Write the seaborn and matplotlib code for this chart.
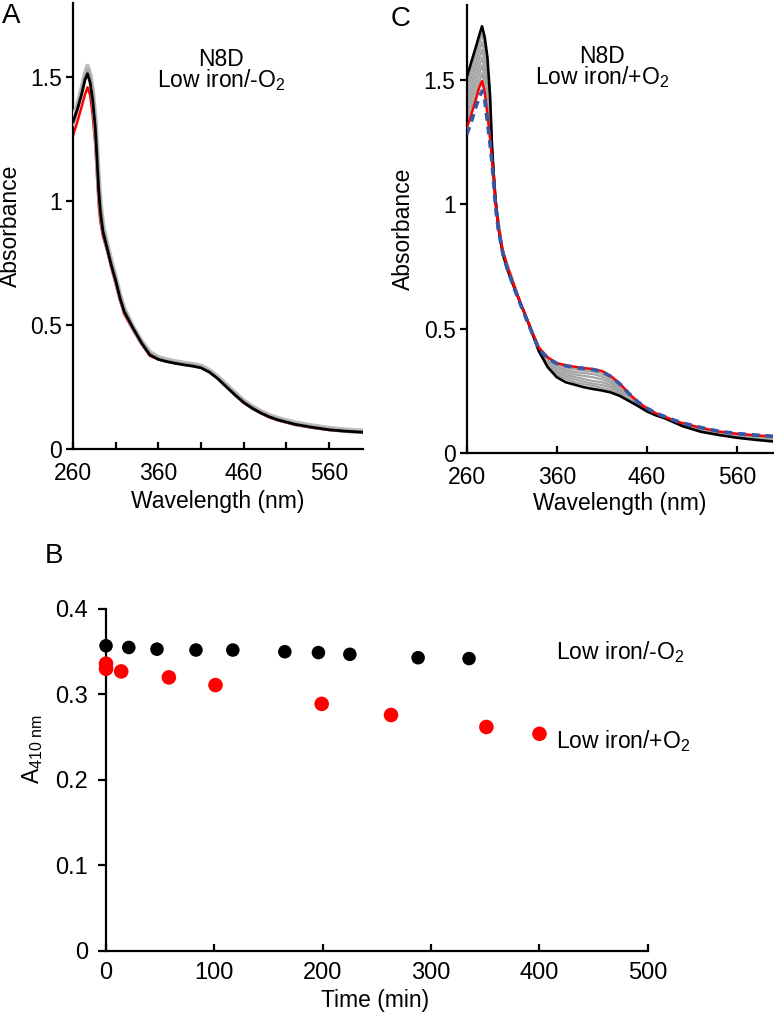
import matplotlib
matplotlib.use("Agg")
import matplotlib.pyplot as plt
import seaborn as sns

# ---------------- data ----------------
wavelength_nm = [260, 265, 270, 274, 277, 280, 283, 286, 288, 290, 292, 295, 300, 305, 310, 315, 320,
                 330, 340, 350, 360, 370, 380, 390, 400, 410, 420, 430, 440, 450, 460, 470, 480, 490,
                 500, 520, 540, 560, 580, 600]

# Panel A: N8D low iron / -O2
A_black = [1.32, 1.37, 1.43, 1.49, 1.515, 1.48, 1.41, 1.30, 1.18, 1.05, 0.96, 0.88, 0.81, 0.74, 0.68,
           0.61, 0.555, 0.49, 0.43, 0.38, 0.362, 0.353, 0.346, 0.340, 0.335, 0.328, 0.31, 0.283, 0.25,
           0.218, 0.188, 0.165, 0.146, 0.13, 0.118, 0.10, 0.088, 0.078, 0.072, 0.068]
A_red = [1.265, 1.32, 1.38, 1.43, 1.46, 1.43, 1.35, 1.23, 1.11, 0.99, 0.92, 0.86, 0.80, 0.73, 0.665,
         0.60, 0.545, 0.482, 0.425, 0.377, 0.362, 0.354, 0.348, 0.343, 0.338, 0.331, 0.312, 0.284, 0.25,
         0.217, 0.186, 0.163, 0.144, 0.128, 0.116, 0.098, 0.086, 0.077, 0.071, 0.067]
A_grey1 = [1.33, 1.385, 1.45, 1.51, 1.545, 1.51, 1.44, 1.33, 1.21, 1.08, 0.99, 0.90, 0.825, 0.755,
           0.69, 0.62, 0.565, 0.495, 0.435, 0.39, 0.37, 0.36, 0.353, 0.347, 0.342, 0.335, 0.317, 0.29,
           0.258, 0.225, 0.195, 0.171, 0.152, 0.136, 0.124, 0.106, 0.094, 0.084, 0.077, 0.073]
A_grey2 = [1.31, 1.37, 1.44, 1.50, 1.53, 1.50, 1.43, 1.32, 1.20, 1.07, 0.975, 0.89, 0.815, 0.745,
           0.685, 0.615, 0.56, 0.49, 0.432, 0.385, 0.365, 0.355, 0.348, 0.342, 0.337, 0.330, 0.312,
           0.285, 0.252, 0.22, 0.19, 0.166, 0.147, 0.131, 0.119, 0.101, 0.089, 0.079, 0.072, 0.068]

# Panel C: N8D low iron / +O2
C_black = [1.51, 1.57, 1.63, 1.68, 1.715, 1.67, 1.59, 1.43, 1.24, 1.12, 1.02, 0.91, 0.80, 0.74, 0.69,
           0.645, 0.60, 0.51, 0.41, 0.345, 0.305, 0.285, 0.275, 0.265, 0.258, 0.252, 0.244, 0.23, 0.21,
           0.19, 0.168, 0.152, 0.140, 0.124, 0.108, 0.086, 0.073, 0.062, 0.054, 0.047]
C_red = [1.305, 1.36, 1.42, 1.47, 1.495, 1.45, 1.36, 1.26, 1.18, 1.10, 1.00, 0.91, 0.815, 0.75, 0.70,
         0.647, 0.60, 0.51, 0.425, 0.385, 0.362, 0.353, 0.347, 0.342, 0.338, 0.330, 0.31, 0.28, 0.24,
         0.205, 0.180, 0.160, 0.146, 0.132, 0.120, 0.102, 0.087, 0.078, 0.072, 0.067]
C_blue = [1.28, 1.33, 1.39, 1.43, 1.455, 1.42, 1.33, 1.24, 1.17, 1.08, 0.99, 0.90, 0.805, 0.74, 0.69,
          0.64, 0.595, 0.505, 0.42, 0.38, 0.36, 0.351, 0.345, 0.340, 0.336, 0.328, 0.308, 0.278, 0.24,
          0.206, 0.181, 0.161, 0.147, 0.133, 0.121, 0.103, 0.088, 0.079, 0.073, 0.068]

grey_wavelength_nm = [260, 270, 277, 280, 283, 286, 288, 292, 300, 320, 340, 350, 360, 380, 400, 410,
                      420, 440, 460, 480, 500, 540, 600]
C_grey1 = [1.481, 1.600, 1.684, 1.639, 1.557, 1.406, 1.231, 1.017, 0.802, 0.60, 0.412, 0.351, 0.313,
           0.285, 0.270, 0.263, 0.253, 0.214, 0.170, 0.141, 0.110, 0.075, 0.050]
C_grey2 = [1.451, 1.570, 1.652, 1.607, 1.524, 1.381, 1.223, 1.014, 0.804, 0.60, 0.414, 0.356, 0.321,
           0.296, 0.279, 0.274, 0.263, 0.219, 0.171, 0.142, 0.111, 0.077, 0.053]
C_grey3 = [1.422, 1.540, 1.621, 1.576, 1.491, 1.357, 1.214, 1.011, 0.806, 0.60, 0.416, 0.362, 0.329,
           0.306, 0.290, 0.285, 0.272, 0.223, 0.173, 0.143, 0.113, 0.079, 0.056]
C_grey4 = [1.393, 1.510, 1.589, 1.544, 1.459, 1.333, 1.206, 1.009, 0.809, 0.60, 0.419, 0.368, 0.338,
           0.316, 0.305, 0.297, 0.282, 0.227, 0.175, 0.143, 0.115, 0.081, 0.058]
C_grey5 = [1.364, 1.480, 1.558, 1.513, 1.426, 1.309, 1.197, 1.006, 0.811, 0.60, 0.421, 0.374, 0.346,
           0.326, 0.318, 0.308, 0.291, 0.231, 0.177, 0.144, 0.117, 0.083, 0.061]
C_grey6 = [1.334, 1.450, 1.526, 1.481, 1.393, 1.284, 1.189, 1.003, 0.813, 0.60, 0.423, 0.379, 0.354,
           0.337, 0.328, 0.319, 0.301, 0.236, 0.178, 0.145, 0.118, 0.085, 0.064]

# Panel B: A410 vs time
time_minus_O2 = [0, 21, 47, 83, 117, 165, 196, 225, 288, 335]
a410_minus_O2 = [0.357, 0.355, 0.353, 0.352, 0.352, 0.350, 0.349, 0.347, 0.343, 0.342]
time_plus_O2 = [0, 0, 14, 58, 101, 199, 263, 351, 400]
a410_plus_O2 = [0.336, 0.330, 0.327, 0.320, 0.311, 0.289, 0.276, 0.262, 0.254]

spec_xticks = [260, 360, 460, 560]
spec_xminor_A = [310, 410, 510]
spec_yticks = [0, 0.5, 1, 1.5]
spec_yticklabels = ["0", "0.5", "1", "1.5"]
B_xticks = [0, 100, 200, 300, 400, 500]
B_yticks = [0, 0.1, 0.2, 0.3, 0.4]
B_yticklabels = ["0", "0.1", "0.2", "0.3", "0.4"]

# ---------------- style ----------------
sns.set_theme(style="white")
plt.rcParams["font.family"] = ["Liberation Sans", "DejaVu Sans"]
plt.rcParams["mathtext.fontset"] = "custom"
plt.rcParams["mathtext.rm"] = "Liberation Sans"
plt.rcParams["mathtext.it"] = "Liberation Sans:italic"
plt.rcParams["axes.linewidth"] = 1.6
plt.rcParams["axes.edgecolor"] = "black"
plt.rcParams["text.color"] = "black"
plt.rcParams["axes.labelcolor"] = "black"
plt.rcParams["xtick.color"] = "black"
plt.rcParams["ytick.color"] = "black"

TICK = 16.5
LAB = 16.5

fig = plt.figure(figsize=(7.74, 10.23), dpi=100)
axA = fig.add_axes([0.0943, 0.561, 0.375, 0.436])
axC = fig.add_axes([0.603, 0.557, 0.3957, 0.438])
axB = fig.add_axes([0.137, 0.0704, 0.700, 0.3343])


def line(ax, x, y, color, lw, ls="-", z=2):
    sns.lineplot(x=x, y=y, ax=ax, color=color, linewidth=lw, linestyle=ls,
                 sort=False, estimator=None, zorder=z, legend=False)


# Panel A
line(axA, wavelength_nm, A_red, "#ff0000", 1.8, z=2)
line(axA, wavelength_nm, A_grey1, "#bdbdbd", 3.6, z=3)
line(axA, wavelength_nm, A_grey2, "#a8a8a8", 2.6, z=3)
line(axA, wavelength_nm, A_black, "black", 2.0, z=4)

# Panel C
for g in [C_grey1, C_grey2, C_grey3, C_grey4, C_grey5, C_grey6]:
    line(axC, grey_wavelength_nm, g, "#a5a5a5", 1.6, z=2)
line(axC, wavelength_nm, C_black, "black", 1.9, z=3)
line(axC, wavelength_nm, C_red, "#ff0000", 1.8, z=4)
line(axC, wavelength_nm, C_blue, "#3558a6", 2.6, ls=(0, (2.2, 1.6)), z=5)

for ax, minor in [(axA, True), (axC, False)]:
    ax.set_xlim(260, 600)
    ax.set_ylim(0, 1.8)
    ax.set_xticks(spec_xticks)
    ax.set_xticklabels([str(t) for t in spec_xticks])
    if minor:
        ax.set_xticks(spec_xminor_A, minor=True)
    ax.set_yticks(spec_yticks)
    ax.set_yticklabels(spec_yticklabels)
    ax.tick_params(axis="x", which="both", direction="in", length=5, width=1.6,
                   labelsize=TICK, pad=9, bottom=True)
    ax.tick_params(axis="y", direction="out", length=5, width=1.6, labelsize=TICK, pad=3,
                   left=True)
    ax.set_xlabel("Wavelength (nm)", fontsize=LAB)
    ax.set_ylabel("Absorbance", fontsize=LAB)
    sns.despine(ax=ax)

axA.text(0.51, 0.849, "N8D\nLow iron/-O$_\\mathregular{2}$", transform=axA.transAxes,
         ha="center", va="center", multialignment="center", linespacing=0.8, fontsize=LAB)
axC.text(0.441, 0.860, "N8D\nLow iron/+O$_\\mathregular{2}$", transform=axC.transAxes,
         ha="center", va="center", multialignment="center", linespacing=0.8, fontsize=LAB)

axA.xaxis.set_label_coords(0.5, -0.092)
axA.yaxis.set_label_coords(-0.176, 0.5)
axC.xaxis.set_label_coords(0.5, -0.087)
axC.yaxis.set_label_coords(-0.17, 0.5)

# Panel B
sns.scatterplot(x=time_minus_O2, y=a410_minus_O2, ax=axB, color="black", s=95,
                edgecolor="none", zorder=3, clip_on=False)
sns.scatterplot(x=time_plus_O2, y=a410_plus_O2, ax=axB, color="#ff0000", s=110,
                edgecolor="none", zorder=3, clip_on=False)
axB.set_xlim(0, 500)
axB.set_ylim(0, 0.4)
axB.set_xticks(B_xticks)
axB.set_xticklabels([str(t) for t in B_xticks])
axB.set_yticks(B_yticks)
axB.set_yticklabels(B_yticklabels)
axB.tick_params(axis="x", direction="in", length=5, width=1.6, labelsize=17, pad=8,
                bottom=True)
axB.tick_params(axis="y", direction="out", length=6, width=1.6, labelsize=17, pad=7,
                left=True)
axB.set_xlabel("Time (min)", fontsize=16.5)
axB.set_ylabel("A$_\\mathregular{410\\ nm}$", fontsize=16.5)
axB.xaxis.set_label_coords(0.496, -0.11)
axB.yaxis.set_label_coords(-0.113, 0.59)
sns.despine(ax=axB)
axB.text(415, 0.35, "Low iron/-O$_\\mathregular{2}$", ha="left", va="center", fontsize=16.5)
axB.text(415, 0.246, "Low iron/+O$_\\mathregular{2}$", ha="left", va="center", fontsize=16.5)

fig.text(0.002, 0.997, "A", ha="left", va="top", fontsize=20)
fig.text(0.505, 0.994, "C", ha="left", va="top", fontsize=20)
fig.text(0.058, 0.469, "B", ha="left", va="top", fontsize=20)

fig.savefig("out.png", dpi=100)
